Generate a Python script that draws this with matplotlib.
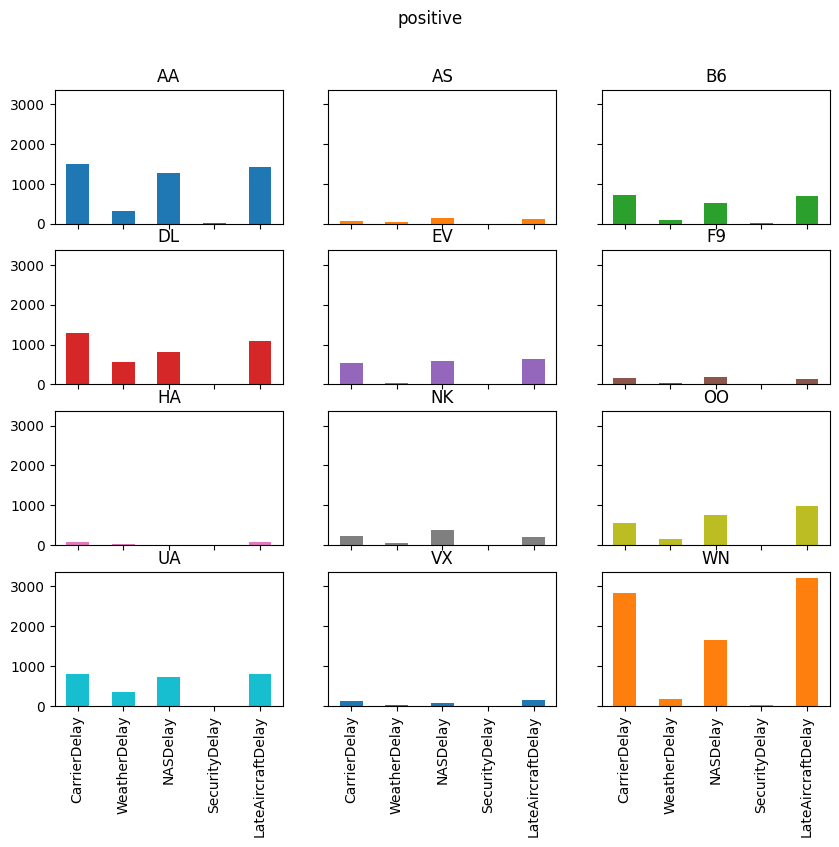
import matplotlib
matplotlib.use("Agg")
import matplotlib.pyplot as plt
import numpy as np

delay_types = ["CarrierDelay", "WeatherDelay", "NASDelay", "SecurityDelay", "LateAircraftDelay"]
carriers = ["AA", "AS", "B6", "DL", "EV", "F9", "HA", "NK", "OO", "UA", "VX", "WN"]

# counts per delay type
aa = [1500, 325, 1275, 20, 1425]
as_ = [75, 50, 150, 0, 125]
b6 = [725, 100, 525, 25, 700]
dl = [1300, 550, 825, 0, 1100]
ev = [525, 25, 575, 0, 625]
f9 = [150, 25, 175, 0, 125]
ha = [75, 20, 0, 0, 75]
nk = [225, 50, 375, 0, 200]
oo = [550, 150, 750, 0, 975]
ua = [800, 350, 725, 0, 800]
vx = [125, 25, 75, 0, 150]
wn = [2825, 175, 1650, 25, 3200]

values = [aa, as_, b6, dl, ev, f9, ha, nk, oo, ua, vx, wn]

fig, axes = plt.subplots(4, 3, figsize=(10, 8), sharex=True, sharey=True)
colors = plt.rcParams["axes.prop_cycle"].by_key()["color"]
x = np.arange(len(delay_types))

for i, (ax, name, vals) in enumerate(zip(axes.flat, carriers, values)):
    ax.bar(x, vals, width=0.5, color=colors[i % len(colors)])
    ax.set_title(name)
    ax.set_xlim(-0.5, len(delay_types) - 0.5)

for ax in axes[-1]:
    ax.set_xticks(x)
    ax.set_xticklabels(delay_types, rotation=90)

fig.suptitle("positive")
plt.savefig("out.png", dpi=100, bbox_inches="tight")
